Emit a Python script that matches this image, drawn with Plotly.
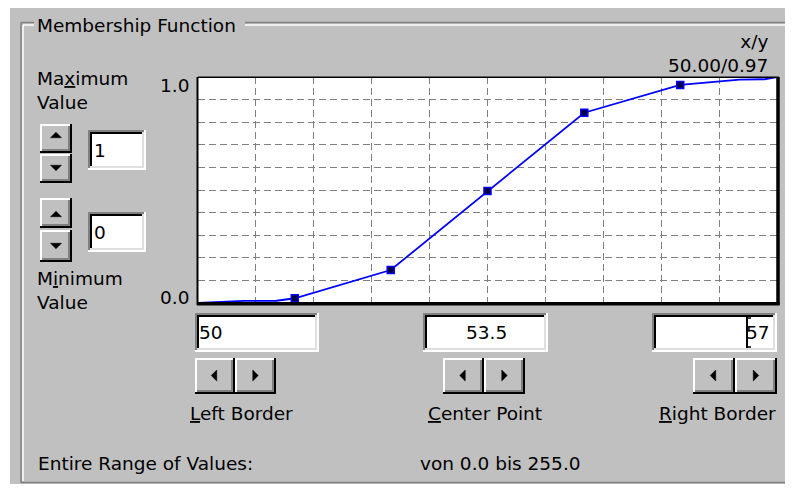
import plotly.graph_objects as go

# ---------------- data ----------------
curve_x = [50.0, 50.55, 50.95, 51.17, 52.33, 53.5, 54.67, 55.83, 56.30, 56.55, 56.85, 57.0]
curve_y = [0.0, 0.009, 0.010, 0.021, 0.146, 0.496, 0.842, 0.965, 0.978, 0.988, 0.990, 1.0]
point_x = [51.17, 52.33, 53.5, 54.67, 55.83]
point_y = [0.021, 0.146, 0.496, 0.842, 0.965]
x_grid = [50.0, 50.7, 51.4, 52.1, 52.8, 53.5, 54.2, 54.9, 55.6, 56.3, 57.0]
y_grid = [0.0, 0.1, 0.2, 0.3, 0.4, 0.5, 0.6, 0.7, 0.8, 0.9, 1.0]
y_labels = ["0.0", "1.0"]
max_value = "1"
min_value = "0"
left_border = "50"
center_point = "53.5"
right_border = "57"
xy_readout = "50.00/0.97"
range_text = "von 0.0 bis 255.0"

# ---------------- geometry helpers (screen pixel -> paper) ----------------
OFF = 8                      # page body margin of the browser
W, H = 793 - OFF, 488 - OFF  # figure size so that it ends at the window edge
PL, PR, PT, PB = 198, 777, 77, 303   # plot area in screen pixels
def X(px):
    return (px - PL) / (PR - PL)
def Y(py):
    return (PB - py) / (PB - PT)

GRAY = "#c0c0c0"
DARK = "#808080"
LIGHT = "#dfdfdf"
FONT = "DejaVu Sans"
FS = 18.5

shapes = []
annotations = []

def rect(x0, y0, x1, y1, fill, layer="above"):
    shapes.append(dict(type="rect", xref="paper", yref="paper", layer=layer,
                       x0=X(x0), x1=X(x1), y0=Y(y1), y1=Y(y0),
                       fillcolor=fill, line=dict(width=0)))

def line(x0, y0, x1, y1, color, width=2, layer="above"):
    shapes.append(dict(type="line", xref="paper", yref="paper", layer=layer,
                       x0=X(x0), x1=X(x1), y0=Y(y0), y1=Y(y1),
                       line=dict(color=color, width=width)))

def poly(pts, color="black"):
    p = "M " + " L ".join(f"{X(a):.5f},{Y(b):.5f}" for a, b in pts) + " Z"
    shapes.append(dict(type="path", xref="paper", yref="paper", layer="above",
                       path=p, fillcolor=color, line=dict(color=color, width=0.5)))

def text(s, x, y, xanchor="left", yanchor="middle", size=FS, align="left"):
    annotations.append(dict(text=s, x=X(x), y=Y(y), xref="paper", yref="paper",
                            xanchor=xanchor, yanchor=yanchor, showarrow=False,
                            borderpad=0, borderwidth=0, align=align,
                            font=dict(family=FONT, size=size, color="black")))

def raised(x0, y0, x1, y1):
    rect(x0, y0, x1, y1, GRAY)
    line(x0, y0 + 1, x1 - 2, y0 + 1, "white")
    line(x0 + 1, y0, x0 + 1, y1 - 2, "white")
    line(x0, y1 - 1, x1, y1 - 1, "black")
    line(x1 - 1, y0, x1 - 1, y1, "black")
    line(x0 + 2, y1 - 3, x1 - 2, y1 - 3, DARK)
    line(x1 - 3, y0 + 2, x1 - 3, y1 - 2, DARK)

def sunken(x0, y0, x1, y1):
    rect(x0, y0, x1, y1, "white")
    line(x0, y0 + 1, x1, y0 + 1, DARK)
    line(x0 + 1, y0, x0 + 1, y1, DARK)
    line(x0 + 2, y0 + 3, x1 - 2, y0 + 3, "black")
    line(x0 + 3, y0 + 2, x0 + 3, y1 - 2, "black")
    line(x0, y1 - 1, x1, y1 - 1, "white")
    line(x1 - 1, y0, x1 - 1, y1, "white")
    line(x0 + 2, y1 - 3, x1 - 2, y1 - 3, LIGHT)
    line(x1 - 3, y0 + 2, x1 - 3, y1 - 2, LIGHT)

def arrow(kind, cx, cy):
    a, b = 5.5, 5.5
    if kind == "up":
        poly([(cx - a, cy + b / 2), (cx + a, cy + b / 2), (cx, cy - b / 2)])
    elif kind == "down":
        poly([(cx - a, cy - b / 2), (cx + a, cy - b / 2), (cx, cy + b / 2)])
    elif kind == "left":
        poly([(cx + b / 2, cy - a), (cx + b / 2, cy + a), (cx - b / 2, cy)])
    else:
        poly([(cx - b / 2, cy - a), (cx - b / 2, cy + a), (cx + b / 2, cy)])

# ---------------- background & group box ----------------
rect(10, 7, 793, 484, GRAY, layer="below")
rect(PL, PT, PR, PB, "white", layer="below")

line(21, 22.5, 34, 22.5, DARK, 1.5)
line(245, 22.5, 793, 22.5, DARK, 1.5)
line(23, 25, 34, 25, "white", 1.5)
line(245, 25, 793, 25, "white", 1.5)
line(21, 22.5, 21, 483, DARK, 1.5)
line(23, 25, 23, 481, "white", 1.5)
line(21, 482.5, 793, 482.5, DARK, 1.5)
text("Membership Function", 37, 25.5)

# ---------------- left controls ----------------
text("Ma<u>x</u>imum<br>Value", 37, 90)
raised(40, 124, 72, 153); arrow("up", 56, 135)
raised(40, 154, 72, 183); arrow("down", 56, 168)
sunken(88, 130, 146, 170)
text(max_value, 94, 150)
raised(40, 198, 72, 228); arrow("up", 56, 214)
raised(40, 230, 72, 262); arrow("down", 56, 246)
sunken(88, 212, 146, 252)
text(min_value, 94, 232)
text("M<u>i</u>nimum<br>Value", 37, 290)

# ---------------- y labels & readout ----------------
text(y_labels[1], 189, 75, xanchor="right", yanchor="top")
text(y_labels[0], 189, 308, xanchor="right", yanchor="bottom")
text("x/y<br>" + xy_readout, 768, 54, xanchor="right", align="right")

# ---------------- plot frame ----------------
line(PL - 0.5, PT, PL - 0.5, PB + 2, "black", 2)
line(PL, PT + 0.25, PR + 2, PT + 0.25, "black", 1.5)
line(PR + 1, PT, PR + 1, PB + 2, "black", 3.5)
line(PL - 1, PB + 0.75, PR + 2.5, PB + 0.75, "black", 3.5)

# ---------------- bottom controls ----------------
sunken(195, 313, 319, 352)
text(left_border, 199, 332)
sunken(423, 313, 548, 352)
text(center_point, 486, 332, xanchor="center")
sunken(652, 313, 777, 352)
text(right_border, 770, 332, xanchor="right")
line(747, 317, 747, 348, "black", 2)
line(746, 318, 751, 318, "black", 1.5)
line(746, 347, 751, 347, "black", 1.5)

for x0, x1 in [(195, 235), (443, 484), (693, 735)]:
    raised(x0, 358, x1, 394); arrow("left", (x0 + x1) / 2 - 1, 375.5)
for x0, x1 in [(235, 276), (484, 525), (735, 777)]:
    raised(x0, 358, x1, 394); arrow("right", (x0 + x1) / 2, 375.5)

text("<u>L</u>eft Border", 190, 413)
text("<u>C</u>enter Point", 428, 413)
text("<u>R</u>ight Border", 776, 413, xanchor="right")
text("Entire Range of Values:", 38, 463)
text(range_text, 420, 463)

# ---------------- chart ----------------
fig = go.Figure()
fig.add_trace(go.Scatter(x=curve_x, y=curve_y, mode="lines",
                         line=dict(color="#0000ff", width=1.8), hoverinfo="skip"))
fig.add_trace(go.Scatter(x=point_x, y=point_y, mode="markers",
                         marker=dict(symbol="square", size=7, color="#000040",
                                     line=dict(color="#0000ff", width=1.5))))

fig.update_layout(
    width=W, height=H, autosize=False,
    margin=dict(l=PL - OFF, r=793 - PR, t=PT - OFF, b=488 - PB, pad=0),
    paper_bgcolor="white", plot_bgcolor="white",
    showlegend=False,
    shapes=shapes, annotations=annotations,
    xaxis=dict(range=[50, 57], tickmode="array", tickvals=x_grid, showticklabels=False,
               showgrid=True, gridcolor=DARK, gridwidth=1.2, griddash="7px,4px",
               zeroline=False, showline=False, ticks="", fixedrange=True),
    yaxis=dict(range=[0, 1], tickmode="array", tickvals=y_grid, showticklabels=False,
               showgrid=True, gridcolor=DARK, gridwidth=1.2, griddash="7px,4px",
               zeroline=False, showline=False, ticks="", fixedrange=True),
)

fig.write_html("out.html")
